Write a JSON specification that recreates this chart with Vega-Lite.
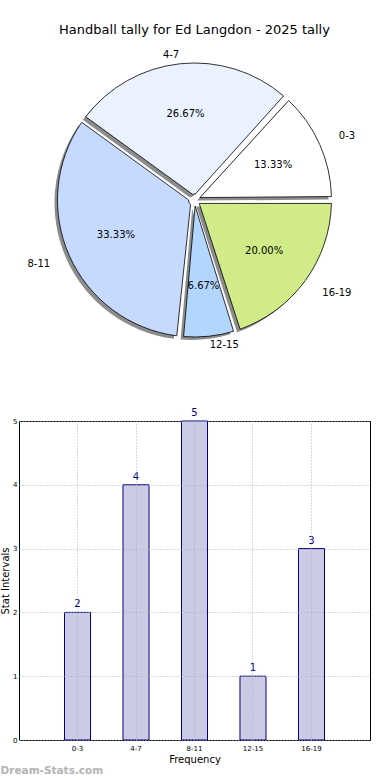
{
  "$schema": "https://vega.github.io/schema/vega-lite/v6.json",
  "padding": {"left": 0, "top": 24, "right": 0, "bottom": 0},
  "autosize": {"type": "pad"},
  "bounds": "flush",
  "spacing": 62,
  "config": {
    "font": "DejaVu Sans",
    "view": {"stroke": "black", "strokeWidth": 1},
    "title": {"fontWeight": "normal", "color": "black"}
  },
  "datasets": {
    "tally": [
      {"i": 0, "range": "0-3", "count": 2},
      {"i": 1, "range": "4-7", "count": 4},
      {"i": 2, "range": "8-11", "count": 5},
      {"i": 3, "range": "12-15", "count": 1},
      {"i": 4, "range": "16-19", "count": 3}
    ]
  },
  "vconcat": [
    {
      "width": 351,
      "height": 318,
      "title": {"text": "Handball tally for Ed Langdon - 2025 tally", "fontSize": 13, "offset": 4, "anchor": "middle"},
      "view": {"stroke": null},
      "data": {"name": "tally"},
      "transform": [
        {"joinaggregate": [{"op": "sum", "field": "count", "as": "total"}]},
        {"calculate": "format(datum.count / datum.total, '.2%')", "as": "pct"}
      ],
      "encoding": {
        "theta": {"field": "count", "type": "quantitative", "stack": true, "scale": {"range": [1.5707963, -4.712389]}},
        "order": {"field": "i", "type": "quantitative"}
      },
      "layer": [
        {"mark": {"type": "arc", "outerRadius": 137, "innerRadius": 6, "padAngle": 0.05, "fill": "#8c8c8c", "xOffset": -3, "yOffset": 3}},
        {
          "mark": {"type": "arc", "outerRadius": 137, "innerRadius": 6, "padAngle": 0.05, "stroke": "black", "strokeWidth": 0.8},
          "encoding": {
            "color": {
              "field": "range", "type": "nominal", "sort": null,
              "scale": {"domain": ["0-3", "4-7", "8-11", "12-15", "16-19"], "range": ["#ffffff", "#eaf2ff", "#c6daff", "#b3d6ff", "#d0eb88"]},
              "legend": null
            }
          }
        },
        {"mark": {"type": "text", "radius": 86, "fontSize": 10, "color": "black"}, "encoding": {"text": {"field": "pct"}}},
        {"mark": {"type": "text", "fontSize": 10, "color": "black", "radius": {"expr": "datum.i == 1 || datum.i == 3 ? 146 : 158"}, "align": {"expr": "datum.i == 1 || datum.i == 2 ? 'right' : 'left'"}}, "encoding": {"text": {"field": "range"}}}
      ]
    },
    {
      "width": 351,
      "height": 319,
      "data": {"name": "tally"},
      "title": {"text": "Dream-Stats.com", "orient": "bottom", "anchor": "start", "fontSize": 10.5, "fontWeight": "bold", "color": "#b3b3b3", "offset": 2},
      "encoding": {
        "x": {
          "field": "range", "type": "nominal", "sort": null,
          "scale": {"paddingInner": 0.555, "paddingOuter": 0.778},
          "axis": {"labelAngle": 0, "labelFontSize": 7, "labelColor": "black", "labelPadding": 4, "tickSize": 0, "domain": false, "grid": true, "gridDash": [1, 2], "gridColor": "#b0b0b0", "bandPosition": 0.5, "zindex": 1, "title": "Frequency", "titleFontSize": 10, "titleFontWeight": "normal", "titlePadding": 3, "titleColor": "black"}
        },
        "y": {
          "field": "count", "type": "quantitative",
          "scale": {"domain": [0, 5], "nice": false},
          "axis": {"values": [0, 1, 2, 3, 4, 5], "labelFontSize": 7, "labelColor": "black", "labelPadding": 2, "tickSize": 0, "domain": false, "gridDash": [1, 2], "gridColor": "#b0b0b0", "zindex": 1, "title": "Stat Intervals", "titleFontSize": 10, "titleFontWeight": "normal", "titlePadding": 2, "titleColor": "black"}
        }
      },
      "layer": [
        {"mark": {"type": "bar", "fill": "#cbcbe5", "stroke": "#000080", "strokeWidth": 1}},
        {"mark": {"type": "text", "dy": -5, "baseline": "alphabetic", "fontSize": 10, "color": "#000080"}, "encoding": {"text": {"field": "count", "type": "quantitative"}}}
      ]
    }
  ]
}
